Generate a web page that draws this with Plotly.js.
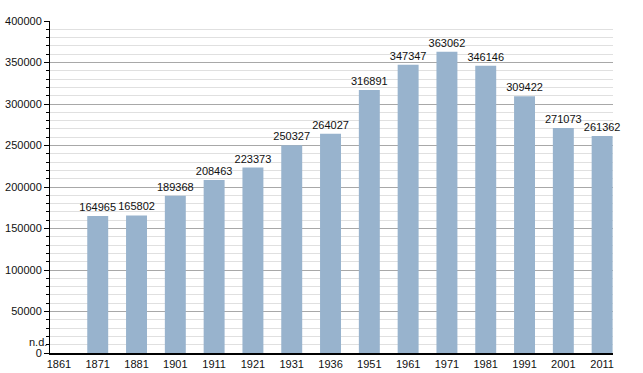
<!DOCTYPE html>
<html><head><meta charset="utf-8">
<script src="https://cdn.plot.ly/plotly-3.0.1.min.js"></script>
<style>html,body{margin:0;padding:0;background:#fff;}#chart{width:643px;height:373px;}</style>
</head><body><div id="chart"></div>
<script>
const years = ["1861","1871","1881","1901","1911","1921","1931","1936","1951","1961","1971","1981","1991","2001","2011"];
const population = [null,164965,165802,189368,208463,223373,250327,264027,316891,347347,363062,346146,309422,271073,261362];
const missingLabel = "n.d.";

const trace = {
  type: 'bar',
  x: years,
  y: population,
  width: 0.54,
  marker: {color: '#98b3cd', line: {width: 0}},
  text: population.map(v => v == null ? '' : String(v)),
  textposition: 'outside',
  constraintext: 'none',
  textfont: {family: 'Liberation Sans, Arial, sans-serif', size: 11, color: '#111'},
  cliponaxis: false,
  hoverinfo: 'none'
};

const layout = {
  width: 643, height: 373,
  margin: {l: 50, r: 30, t: 21, b: 20, pad: 0},
  paper_bgcolor: '#fff', plot_bgcolor: '#fff',
  showlegend: false,
  font: {family: 'Liberation Sans, Arial, sans-serif', size: 11, color: '#111'},
  xaxis: {
    type: 'category',
    range: [-0.23, 14.28],
    showline: true, linecolor: '#000', linewidth: 2,
    ticks: '', showgrid: false, zeroline: false,
    tickfont: {size: 11, color: '#111'},
    fixedrange: true
  },
  yaxis: {
    range: [0, 400000],
    dtick: 50000, tick0: 0,
    tickformat: 'd',
    showline: true, linecolor: '#000', linewidth: 1,
    ticks: 'outside', ticklen: 5, tickcolor: '#000', tickwidth: 1,
    showgrid: true, gridcolor: '#a8a8a8', gridwidth: 1,
    zeroline: false,
    tickfont: {size: 11, color: '#111'},
    minor: {dtick: 10000, showgrid: true, gridcolor: '#e0e0e0', gridwidth: 1, ticks: 'outside', ticklen: 3, tickcolor: '#000'},
    fixedrange: true
  },
  annotations: [{
    x: 0, y: 0, xref: 'paper', yref: 'y',
    xanchor: 'right', yanchor: 'bottom',
    text: missingLabel, showarrow: false,
    xshift: -1, yshift: 3,
    font: {family: 'Liberation Sans, Arial, sans-serif', size: 11, color: '#111'}
  }]
};

Plotly.newPlot('chart', [trace], layout, {displayModeBar: false, staticPlot: true});
</script>
</body></html>
